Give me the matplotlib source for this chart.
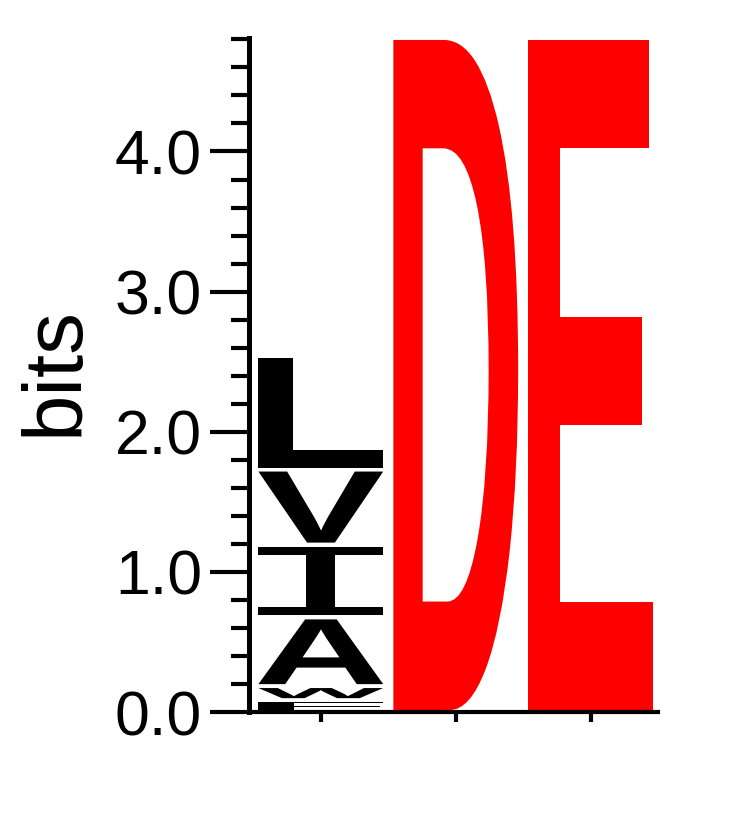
import matplotlib
matplotlib.use("Agg")
import matplotlib.pyplot as plt
import matplotlib.transforms as mtransforms
from matplotlib.textpath import TextPath
from matplotlib.patches import PathPatch
from matplotlib.font_manager import FontProperties
from matplotlib.ticker import MultipleLocator, FixedLocator

# Logo data: letters per position, stacked bottom -> top, heights in bits
positions = [1, 2, 3]
letters_pos1 = ['F', 'W', 'A', 'I', 'V', 'L']
heights_pos1 = [0.085, 0.10, 0.49, 0.52, 0.535, 0.81]
letters_pos2 = ['D']
heights_pos2 = [4.81]
letters_pos3 = ['E']
heights_pos3 = [4.81]
column_colors = ['black', '#ff0000', '#ff0000']

y_major = [0.0, 1.0, 2.0, 3.0, 4.0]
y_major_labels = ['0.0', '1.0', '2.0', '3.0', '4.0']
y_max = 4.81

PAD = 0.014      # vertical gap inside each letter box (bits)
WIDTH = 0.925    # letter width (position units)

sans_bold = FontProperties(family='Liberation Sans', weight='bold')
mono = FontProperties(family='Liberation Mono', weight='normal')


def draw_letter(ax, ch, x, y0, h, color):
    fp = mono if ch == 'I' else sans_bold
    path = TextPath((0, 0), ch, size=1, prop=fp)
    ext = path.get_extents()
    t = (mtransforms.Affine2D()
         .translate(-ext.x0, -ext.y0)
         .scale(WIDTH / ext.width, (h - 2 * PAD) / ext.height)
         .translate(x - WIDTH / 2, y0 + PAD))
    ax.add_patch(PathPatch(t.transform_path(path), facecolor=color,
                           edgecolor='none', lw=0))


fig = plt.figure(figsize=(7.42, 8.17), dpi=100)
ax = fig.add_axes([0.336, 0.1285, 0.887 - 0.336, 0.9535 - 0.1285])

columns = [(letters_pos1, heights_pos1), (letters_pos2, heights_pos2),
           (letters_pos3, heights_pos3)]
for x, (letters, heights), color in zip(positions, columns, column_colors):
    base = 0.0
    for ch, h in zip(letters, heights):
        draw_letter(ax, ch, x, base, h, color)
        base += h

ax.set_xlim(0.47, 3.5)
ax.set_ylim(0, y_max)

for side in ['top', 'right']:
    ax.spines[side].set_visible(False)
ax.spines['left'].set_linewidth(3.6)
ax.spines['bottom'].set_linewidth(3.0)

ax.xaxis.set_major_locator(FixedLocator(positions))
ax.set_xticklabels([])
ax.tick_params(axis='x', direction='out', length=7, width=3)

ax.yaxis.set_major_locator(FixedLocator(y_major))
ax.set_yticklabels(y_major_labels, fontsize=45, family='Liberation Sans')
ax.yaxis.set_minor_locator(MultipleLocator(0.2))
ax.tick_params(axis='y', which='major', direction='out', length=28, width=3, pad=6)
ax.tick_params(axis='y', which='minor', direction='out', length=13, width=3)

fig.text(0.0755, 0.546, 'bits', rotation=90, ha='center', va='center',
         fontsize=60, family='Liberation Sans')

fig.savefig('out.png', dpi=100)
